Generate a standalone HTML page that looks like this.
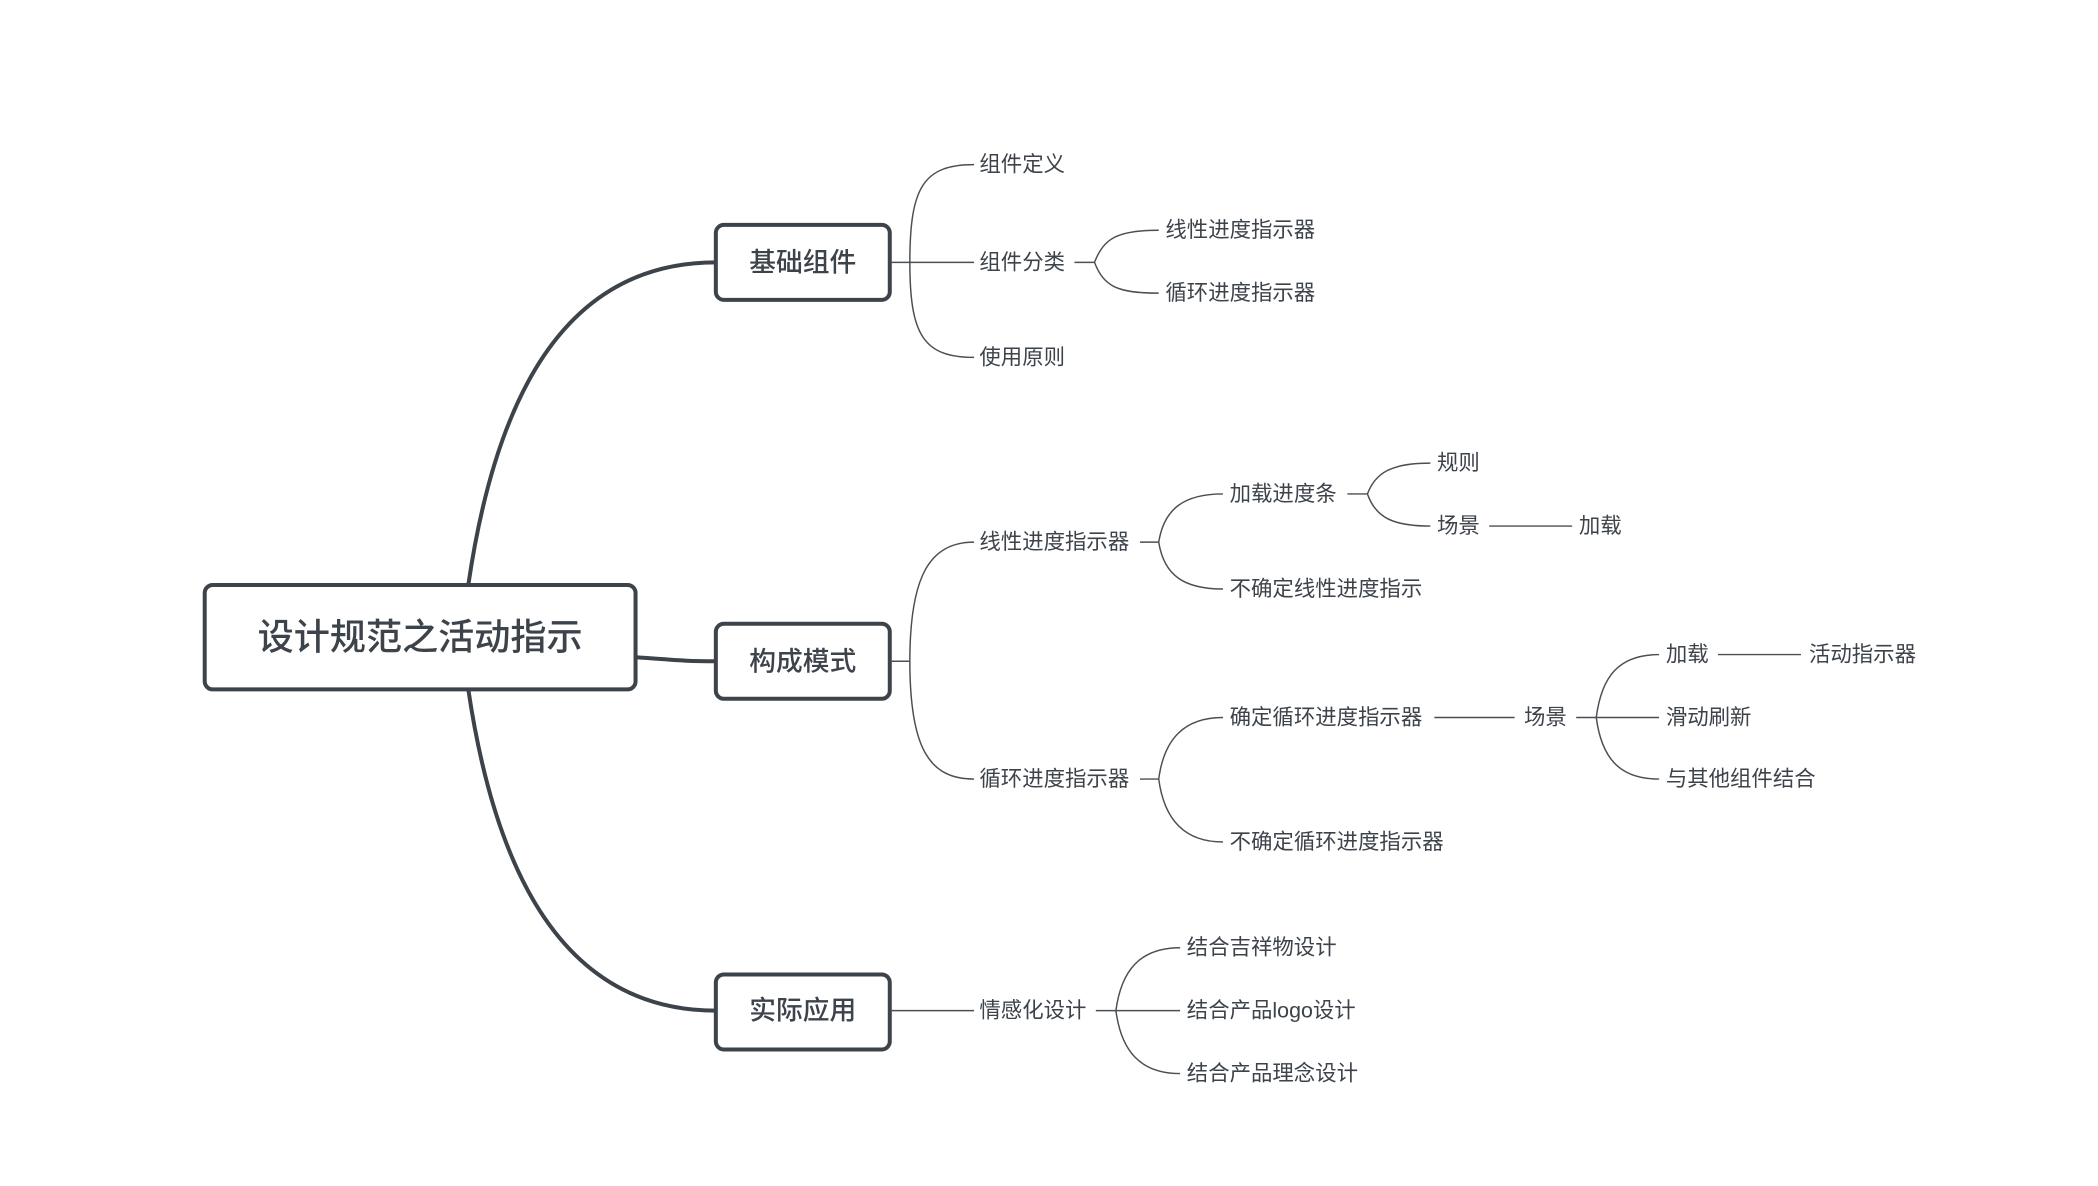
<!DOCTYPE html>
<html><head><meta charset="utf-8"><style>
html,body{margin:0;padding:0;background:#fff;}
svg{display:block;}
text{font-family:"Liberation Sans","Noto Sans CJK SC",sans-serif;fill:#3d434a;dominant-baseline:central;}
.l{font-size:16px;}
.m{font-size:20px;font-weight:500;text-anchor:middle;}
</style></head><body>
<svg width="2098" height="1186" viewBox="0 0 1568 886" preserveAspectRatio="none">
<g fill="none" stroke="#3d434a" stroke-width="3">
<path d="M350,437 C370,300 420,196 535,196"/>
<path d="M350,515 C370,650 420,755 535,755"/>
<path d="M475,491 C505,493 510,494 535,494"/>
<rect x="153" y="437" width="322" height="78" rx="6" fill="#fff"/>
<rect x="535" y="168" width="130" height="56" rx="6" fill="#fff"/>
<rect x="535" y="466" width="130" height="56" rx="6" fill="#fff"/>
<rect x="535" y="728" width="130" height="56" rx="6" fill="#fff"/>
</g>
<g fill="none" stroke="#4a4f55" stroke-width="1.1">
<path d="M665,196 H728"/>
<path d="M680,196 C680,140 690,123 728,123"/>
<path d="M680,196 C680,250 690,267 728,267"/>
<path d="M803,196 H818"/>
<path d="M818,196 C825,178 835,172 866,172"/>
<path d="M818,196 C825,214 835,219 866,219"/>
<path d="M665,494 H680"/>
<path d="M680,494 C680,430 695,405 728,405"/>
<path d="M680,494 C680,560 695,582 728,582"/>
<path d="M852,405 H866"/>
<path d="M866,405 C870,380 885,369 914,369"/>
<path d="M866,405 C870,430 885,440 914,440"/>
<path d="M1007,369 H1022"/>
<path d="M1022,369 C1028,353 1040,346 1069,346"/>
<path d="M1022,369 C1028,386 1040,393 1069,393"/>
<path d="M1113,393 H1175"/>
<path d="M852,582 H866"/>
<path d="M866,582 C870,552 885,536 914,536"/>
<path d="M866,582 C870,612 885,629 914,629"/>
<path d="M1072,536 H1132"/>
<path d="M1178,536 H1240"/>
<path d="M1193,536 C1197,505 1210,489 1240,489"/>
<path d="M1193,536 C1197,566 1210,582 1240,582"/>
<path d="M1284,489 H1346"/>
<path d="M665,755 H728"/>
<path d="M819,755 H882"/>
<path d="M834,755 C838,725 852,708 882,708"/>
<path d="M834,755 C838,785 852,802 882,802"/>
</g>
<text x="314" y="476" style="font-size:27px;font-weight:500;text-anchor:middle">设计规范之活动指示</text>
<text class="m" x="600" y="196">基础组件</text>
<text class="m" x="600" y="494">构成模式</text>
<text class="m" x="600" y="755">实际应用</text>
<text class="l" x="732" y="123">组件定义</text>
<text class="l" x="732" y="196">组件分类</text>
<text class="l" x="732" y="267">使用原则</text>
<text class="l" x="871" y="172">线性进度指示器</text>
<text class="l" x="871" y="219">循环进度指示器</text>
<text class="l" x="732" y="405">线性进度指示器</text>
<text class="l" x="732" y="582">循环进度指示器</text>
<text class="l" x="919" y="369">加载进度条</text>
<text class="l" x="919" y="440">不确定线性进度指示</text>
<text class="l" x="1074" y="346">规则</text>
<text class="l" x="1074" y="393">场景</text>
<text class="l" x="1180" y="393">加载</text>
<text class="l" x="919" y="536">确定循环进度指示器</text>
<text class="l" x="919" y="629">不确定循环进度指示器</text>
<text class="l" x="1139" y="536">场景</text>
<text class="l" x="1245" y="489">加载</text>
<text class="l" x="1245" y="536">滑动刷新</text>
<text class="l" x="1245" y="582">与其他组件结合</text>
<text class="l" x="1352" y="489">活动指示器</text>
<text class="l" x="732" y="755">情感化设计</text>
<text class="l" x="887" y="708">结合吉祥物设计</text>
<text class="l" x="887" y="755">结合产品logo设计</text>
<text class="l" x="887" y="802">结合产品理念设计</text>
</svg>
</body></html>
